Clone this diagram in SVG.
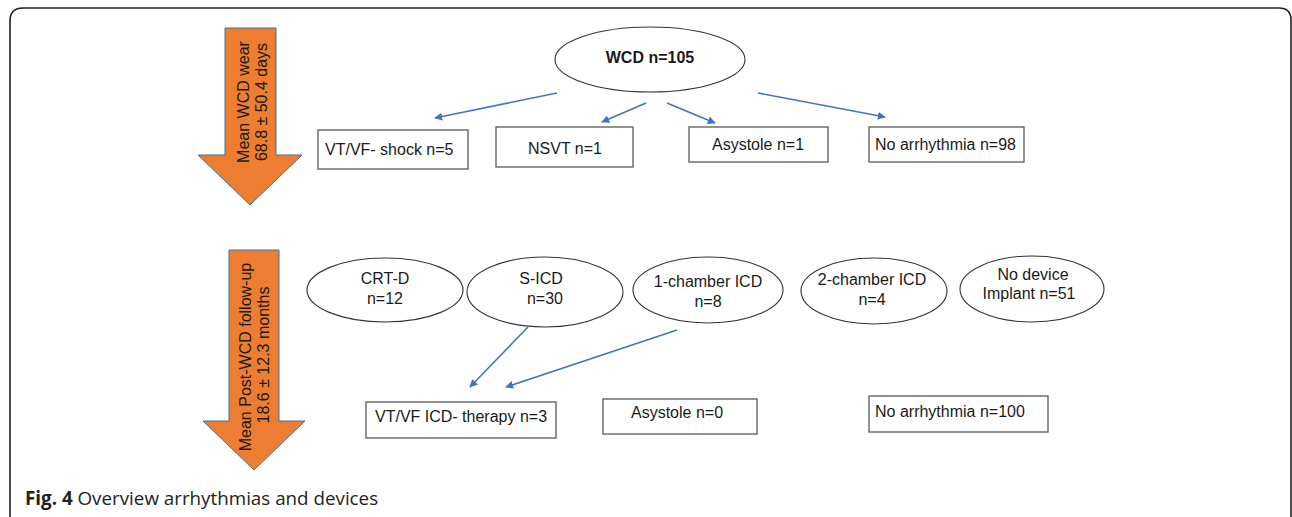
<svg xmlns="http://www.w3.org/2000/svg" width="1292" height="517" viewBox="0 0 1292 517">
<defs>
<style>
.t{font-family:"Liberation Sans",Arial,sans-serif;font-size:16px;fill:#1a1a1a}
.b{fill:#fff;stroke:#595959;stroke-width:1.3}
.e{fill:#fff;stroke:#333;stroke-width:1.1}
.c{stroke:#4472C4;stroke-width:1.6;fill:none;marker-end:url(#ah)}
.big{fill:#ED7D31;stroke:#41719C;stroke-width:1}
.cap{font-family:"Open Sans","Noto Sans",sans-serif;font-size:18.8px;fill:#222}
</style>
<marker id="ah" viewBox="0 0 10 10" refX="9" refY="5" markerWidth="5" markerHeight="5" orient="auto" markerUnits="strokeWidth">
<path d="M0,0 L10,5 L0,10 z" fill="#4472C4"/>
</marker>
</defs>
<rect width="1292" height="517" fill="#fff"/>
<path d="M10 517 Q10 514 10 510 L10 21 Q10 8 23 8 L1279 8 Q1291 8 1291 20 L1291 517" fill="none" stroke="#222" stroke-width="1.6"/>

<g id="arrow-wear">
<path class="big" d="M225 28 L276 28 L276 155 L302 155 L250 205 L198 155 L225 155 Z"/>
<text class="t" transform="translate(249,102) rotate(-90)" text-anchor="middle">Mean WCD wear</text>
<text class="t" transform="translate(267,102) rotate(-90)" text-anchor="middle">68.8 ± 50.4 days</text>
</g>
<g id="arrow-followup">
<path class="big" d="M229 250 L279 250 L279 421 L305 421 L254 470 L203 421 L229 421 Z"/>
<text class="t" transform="translate(251,357) rotate(-90)" text-anchor="middle">Mean Post-WCD follow-up</text>
<text class="t" transform="translate(269,355) rotate(-90)" text-anchor="middle">18.6 ± 12.3 months</text>
</g>

<g id="wcd">
<ellipse class="e" cx="650" cy="59.5" rx="95" ry="32.5"/>
<text class="t" x="650" y="63" text-anchor="middle" font-weight="bold">WCD n=105</text>
</g>
<g id="vtvf-shock">
<rect class="b" x="318" y="130" width="150" height="39"/>
<text class="t" x="325" y="155">VT/VF- shock n=5</text>
</g>
<g id="nsvt">
<rect class="b" x="496" y="127" width="137" height="40"/>
<text class="t" x="565" y="154" text-anchor="middle">NSVT n=1</text>
</g>
<g id="asystole1">
<rect class="b" x="689" y="127" width="139" height="35"/>
<text class="t" x="758" y="150" text-anchor="middle">Asystole  n=1</text>
</g>
<g id="noarr98">
<rect class="b" x="869" y="127" width="155" height="35"/>
<text class="t" x="875" y="150">No arrhythmia n=98</text>
</g>

<g id="crtd">
<ellipse class="e" cx="385" cy="290" rx="78" ry="32"/>
<text class="t" x="385" y="284" text-anchor="middle">CRT-D</text>
<text class="t" x="385" y="304" text-anchor="middle">n=12</text>
</g>
<g id="sicd">
<ellipse class="e" cx="545" cy="292" rx="78" ry="35"/>
<text class="t" x="541" y="284" text-anchor="middle">S-ICD</text>
<text class="t" x="545" y="304" text-anchor="middle">n=30</text>
</g>
<g id="icd1">
<ellipse class="e" cx="708" cy="290" rx="75" ry="33"/>
<text class="t" x="708" y="287" text-anchor="middle">1-chamber ICD</text>
<text class="t" x="708" y="307" text-anchor="middle">n=8</text>
</g>
<g id="icd2">
<ellipse class="e" cx="874" cy="291" rx="73" ry="33"/>
<text class="t" x="872" y="285" text-anchor="middle">2-chamber ICD</text>
<text class="t" x="872" y="305" text-anchor="middle">n=4</text>
</g>
<g id="nodevice">
<ellipse class="e" cx="1032" cy="289" rx="72" ry="33"/>
<text class="t" x="1033" y="280" text-anchor="middle">No device</text>
<text class="t" x="1029" y="299" text-anchor="middle">Implant n=51</text>
</g>

<g id="vtvf-icd">
<rect class="b" x="366" y="402" width="190" height="36"/>
<text class="t" x="375" y="422">VT/VF ICD- therapy n=3</text>
</g>
<g id="asystole0">
<rect class="b" x="603" y="399" width="154" height="35"/>
<text class="t" x="677" y="418" text-anchor="middle">Asystole n=0</text>
</g>
<g id="noarr100">
<rect class="b" x="869" y="396" width="179" height="36"/>
<text class="t" x="875" y="417">No arrhythmia n=100</text>
</g>

<g id="connectors">
<line class="c" x1="557" y1="93" x2="435" y2="118"/>
<line class="c" x1="646" y1="103" x2="602" y2="122"/>
<line class="c" x1="667" y1="103" x2="715" y2="123"/>
<line class="c" x1="758" y1="93" x2="885" y2="117"/>
<line class="c" x1="528" y1="327" x2="470" y2="387"/>
<line class="c" x1="677" y1="330" x2="506" y2="387"/>
</g>

<text class="cap" x="25" y="505"><tspan font-weight="bold">Fig. 4</tspan> Overview arrhythmias and devices</text>
</svg>
